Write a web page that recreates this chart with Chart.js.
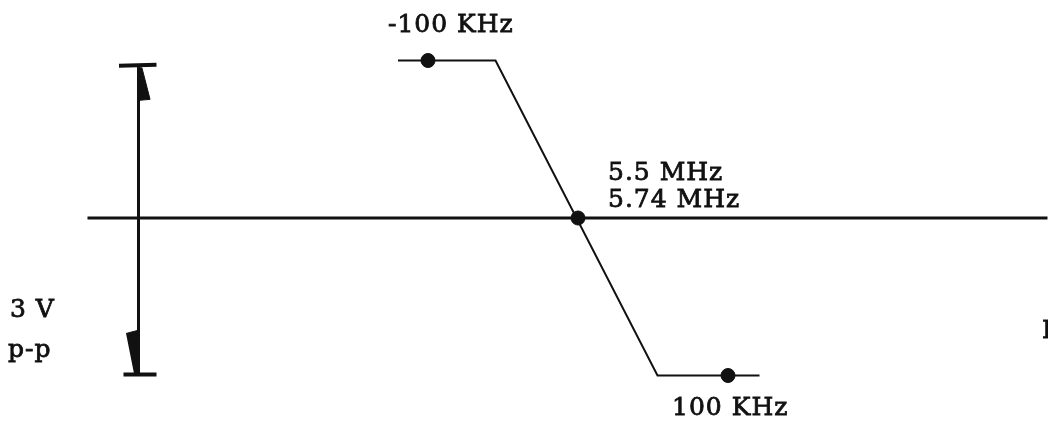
<!DOCTYPE html>
<html>
<head>
<meta charset="utf-8">
<script src="https://cdn.jsdelivr.net/npm/chart.js@4"></script>
<style>
  body { margin: 0; background: #fff; }
</style>
</head>
<body>
<canvas id="discriminator" width="1048" height="421"></canvas>
<script>
// S-curve, x in kHz offset from center, y in volts
const curveKHz = [-120, -55, 53, 121];
const curveVolts = [1.5, 1.5, -1.5, -1.5];

const markerKHz = [-100, 0, 100];
const markerVolts = [1.5, 0, -1.5];

const axisKHz = [-327, 313];
const axisVolts = [0, 0];

// 3 V p-p bracket
const ppKHz = [-293, -293];
const ppVolts = [1.45, -1.49];
const ppTopKHz = [-306, -281];
const ppTopVolts = [1.45, 1.46];
const ppBotKHz = [-303, -281];
const ppBotVolts = [-1.49, -1.49];
const headTopKHz = [-294, -290.7, -285.3, -293.3];
const headTopVolts = [1.43, 1.43, 1.13, 1.12];
const headBotKHz = [-301.3, -293.3, -293.3, -296];
const headBotVolts = [-1.10, -1.07, -1.48, -1.48];

const labelTexts = ['-100 KHz', '5.5 MHz', '5.74 MHz', '3 V', 'p-p', '100 KHz', 'F'];
const labelKHz = [-126.7, 20, 20, -378.7, -380, 62.7, 309.3];
const labelVolts = [1.771, 0.362, 0.105, -0.943, -1.324, -1.876, -1.143];

function pts(xs, ys) {
    return xs.map(function (x, i) { return {x: x, y: ys[i]}; });
}

const labelPlugin = {
    id: 'labels',
    afterDatasetsDraw(chart) {
        const ctx = chart.ctx;
        const xs = chart.scales.x, ys = chart.scales.y;
        ctx.save();
        ctx.fillStyle = '#111';
        ctx.strokeStyle = '#111';
        ctx.lineWidth = 0.8;
        ctx.font = '25px "DejaVu Serif"';
        ctx.letterSpacing = '1px';
        ctx.textBaseline = 'alphabetic';
        labelTexts.forEach(function (t, i) {
            let px = xs.getPixelForValue(labelKHz[i]), py = ys.getPixelForValue(labelVolts[i]);
            ctx.fillText(t, px, py);
            ctx.strokeText(t, px, py);
        });
        ctx.restore();
    }
};

function line(data, width) {
    return {data: data, borderColor: '#111', borderWidth: width, showLine: true,
        pointRadius: 0, fill: false, tension: 0};
}
function head(data) {
    return {data: data, borderColor: '#111', backgroundColor: '#111', borderWidth: 1,
        showLine: true, pointRadius: 0, fill: 'shape', tension: 0};
}

let chart = new Chart(document.getElementById('discriminator').getContext('2d'), {
    type: 'scatter',
    data: {
        datasets: [
            line(pts(axisKHz, axisVolts), 3),
            line(pts(curveKHz, curveVolts), 2),
            line(pts(ppKHz, ppVolts), 3),
            line(pts(ppTopKHz, ppTopVolts), 4),
            line(pts(ppBotKHz, ppBotVolts), 4),
            head(pts(headTopKHz, headTopVolts)),
            head(pts(headBotKHz, headBotVolts)),
            {
                data: pts(markerKHz, markerVolts),
                backgroundColor: '#111', borderColor: '#111',
                pointRadius: 7, showLine: false
            }
        ]
    },
    options: {
        responsive: false,
        animation: false,
        layout: {padding: 0, autoPadding: false},
        plugins: {legend: {display: false}, tooltip: {enabled: false}},
        scales: {
            x: {type: 'linear', display: false, min: -385.33, max: 313.33},
            y: {type: 'linear', display: false, min: -1.9333, max: 2.0762}
        }
    },
    plugins: [labelPlugin]
});
</script>
</body>
</html>
